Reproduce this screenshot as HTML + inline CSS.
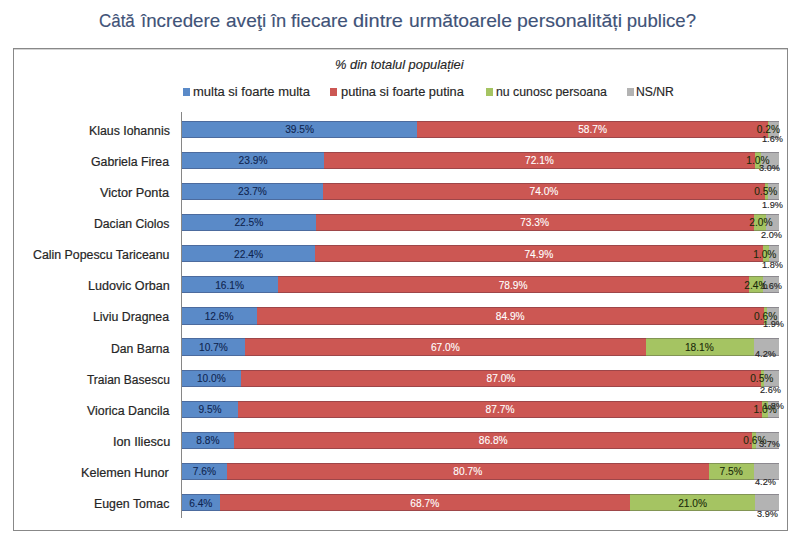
<!DOCTYPE html>
<html><head><meta charset="utf-8"><style>
html,body{margin:0;padding:0;background:#fff;width:800px;height:539px;overflow:hidden;position:relative}
.r{position:absolute}
.b{box-shadow:inset 0 1px rgba(40,30,50,0.28),inset 0 -1px rgba(40,30,50,0.28)}
.t{position:absolute;white-space:nowrap;line-height:1;font-family:"Liberation Sans",sans-serif;transform-origin:0 0;-webkit-text-stroke:0.15px currentColor}
</style></head><body>
<div class="r" style="left:183.00px;top:87.90px;width:7.20px;height:7.70px;background:#5A8AC8;"></div>
<div class="r" style="left:330.30px;top:87.90px;width:7.20px;height:7.70px;background:#CC5753;"></div>
<div class="r" style="left:485.50px;top:87.90px;width:7.20px;height:7.70px;background:#A5C462;"></div>
<div class="r" style="left:627.00px;top:87.90px;width:7.20px;height:7.70px;background:#B3B3B3;"></div>
<div class="r" style="left:13px;top:48px;width:775px;height:483px;border:1px solid #888888;box-sizing:border-box"></div>
<div class="r" style="left:14.00px;top:49.00px;width:773.00px;height:1.00px;background:#D4D4D4;"></div>
<div class="r b" style="left:182.00px;top:120.50px;width:235.39px;height:17.30px;background:#5A8AC8"></div>
<div class="r b" style="left:417.39px;top:120.50px;width:350.56px;height:17.30px;background:#CC5753"></div>
<div class="r b" style="left:767.95px;top:120.50px;width:1.19px;height:17.30px;background:#A5C462"></div>
<div class="r b" style="left:769.14px;top:120.50px;width:9.56px;height:17.30px;background:#B3B3B3"></div>
<div class="r b" style="left:182.00px;top:151.62px;width:142.23px;height:17.30px;background:#5A8AC8"></div>
<div class="r b" style="left:324.23px;top:151.62px;width:430.58px;height:17.30px;background:#CC5753"></div>
<div class="r b" style="left:754.81px;top:151.62px;width:5.97px;height:17.30px;background:#A5C462"></div>
<div class="r b" style="left:760.78px;top:151.62px;width:17.92px;height:17.30px;background:#B3B3B3"></div>
<div class="r b" style="left:182.00px;top:182.75px;width:141.04px;height:17.30px;background:#5A8AC8"></div>
<div class="r b" style="left:323.04px;top:182.75px;width:441.93px;height:17.30px;background:#CC5753"></div>
<div class="r b" style="left:764.96px;top:182.75px;width:2.99px;height:17.30px;background:#A5C462"></div>
<div class="r b" style="left:767.95px;top:182.75px;width:10.75px;height:17.30px;background:#B3B3B3"></div>
<div class="r b" style="left:182.00px;top:213.88px;width:133.87px;height:17.30px;background:#5A8AC8"></div>
<div class="r b" style="left:315.87px;top:213.88px;width:437.75px;height:17.30px;background:#CC5753"></div>
<div class="r b" style="left:753.62px;top:213.88px;width:11.94px;height:17.30px;background:#A5C462"></div>
<div class="r b" style="left:765.56px;top:213.88px;width:13.14px;height:17.30px;background:#B3B3B3"></div>
<div class="r b" style="left:182.00px;top:245.00px;width:133.27px;height:17.30px;background:#5A8AC8"></div>
<div class="r b" style="left:315.27px;top:245.00px;width:447.30px;height:17.30px;background:#CC5753"></div>
<div class="r b" style="left:762.58px;top:245.00px;width:5.97px;height:17.30px;background:#A5C462"></div>
<div class="r b" style="left:768.55px;top:245.00px;width:10.15px;height:17.30px;background:#B3B3B3"></div>
<div class="r b" style="left:182.00px;top:276.12px;width:95.65px;height:17.30px;background:#5A8AC8"></div>
<div class="r b" style="left:277.65px;top:276.12px;width:471.19px;height:17.30px;background:#CC5753"></div>
<div class="r b" style="left:748.84px;top:276.12px;width:14.33px;height:17.30px;background:#A5C462"></div>
<div class="r b" style="left:763.17px;top:276.12px;width:15.53px;height:17.30px;background:#B3B3B3"></div>
<div class="r b" style="left:182.00px;top:307.25px;width:74.75px;height:17.30px;background:#5A8AC8"></div>
<div class="r b" style="left:256.75px;top:307.25px;width:507.02px;height:17.30px;background:#CC5753"></div>
<div class="r b" style="left:763.77px;top:307.25px;width:3.58px;height:17.30px;background:#A5C462"></div>
<div class="r b" style="left:767.35px;top:307.25px;width:11.35px;height:17.30px;background:#B3B3B3"></div>
<div class="r b" style="left:182.00px;top:338.38px;width:63.40px;height:17.30px;background:#5A8AC8"></div>
<div class="r b" style="left:245.40px;top:338.38px;width:400.12px;height:17.30px;background:#CC5753"></div>
<div class="r b" style="left:645.52px;top:338.38px;width:108.09px;height:17.30px;background:#A5C462"></div>
<div class="r b" style="left:753.62px;top:338.38px;width:25.08px;height:17.30px;background:#B3B3B3"></div>
<div class="r b" style="left:182.00px;top:369.50px;width:59.22px;height:17.30px;background:#5A8AC8"></div>
<div class="r b" style="left:241.22px;top:369.50px;width:519.56px;height:17.30px;background:#CC5753"></div>
<div class="r b" style="left:760.78px;top:369.50px;width:2.99px;height:17.30px;background:#A5C462"></div>
<div class="r b" style="left:763.77px;top:369.50px;width:14.93px;height:17.30px;background:#B3B3B3"></div>
<div class="r b" style="left:182.00px;top:400.62px;width:56.23px;height:17.30px;background:#5A8AC8"></div>
<div class="r b" style="left:238.23px;top:400.62px;width:523.74px;height:17.30px;background:#CC5753"></div>
<div class="r b" style="left:761.98px;top:400.62px;width:5.97px;height:17.30px;background:#A5C462"></div>
<div class="r b" style="left:767.95px;top:400.62px;width:10.75px;height:17.30px;background:#B3B3B3"></div>
<div class="r b" style="left:182.00px;top:431.75px;width:52.05px;height:17.30px;background:#5A8AC8"></div>
<div class="r b" style="left:234.05px;top:431.75px;width:518.37px;height:17.30px;background:#CC5753"></div>
<div class="r b" style="left:752.42px;top:431.75px;width:3.58px;height:17.30px;background:#A5C462"></div>
<div class="r b" style="left:756.01px;top:431.75px;width:22.69px;height:17.30px;background:#B3B3B3"></div>
<div class="r b" style="left:182.00px;top:462.88px;width:44.89px;height:17.30px;background:#5A8AC8"></div>
<div class="r b" style="left:226.89px;top:462.88px;width:481.94px;height:17.30px;background:#CC5753"></div>
<div class="r b" style="left:708.83px;top:462.88px;width:44.79px;height:17.30px;background:#A5C462"></div>
<div class="r b" style="left:753.62px;top:462.88px;width:25.08px;height:17.30px;background:#B3B3B3"></div>
<div class="r b" style="left:182.00px;top:494.00px;width:37.72px;height:17.30px;background:#5A8AC8"></div>
<div class="r b" style="left:219.72px;top:494.00px;width:410.28px;height:17.30px;background:#CC5753"></div>
<div class="r b" style="left:630.00px;top:494.00px;width:125.41px;height:17.30px;background:#A5C462"></div>
<div class="r b" style="left:755.41px;top:494.00px;width:23.29px;height:17.30px;background:#B3B3B3"></div>
<div class="r" style="left:181px;top:112px;width:1px;height:406px;background:#868686"></div>
<div class="t" style="left:98.75px;top:11.56px;font-size:18.60px;color:#3F5378;transform:scaleX(0.9108);-webkit-text-stroke-width:0.15px">Câtă</div>
<div class="t" style="left:140.67px;top:11.56px;font-size:18.60px;color:#3F5378;transform:scaleX(1.0074);-webkit-text-stroke-width:0.15px">încredere</div>
<div class="t" style="left:225.74px;top:11.56px;font-size:18.60px;color:#3F5378;transform:scaleX(1.0257);-webkit-text-stroke-width:0.15px">aveţi</div>
<div class="t" style="left:270.87px;top:11.56px;font-size:18.60px;color:#3F5378;transform:scaleX(0.9868);-webkit-text-stroke-width:0.15px">în</div>
<div class="t" style="left:290.97px;top:11.56px;font-size:18.60px;color:#3F5378;transform:scaleX(1.0195);-webkit-text-stroke-width:0.15px">fiecare</div>
<div class="t" style="left:352.95px;top:11.56px;font-size:18.60px;color:#3F5378;transform:scaleX(1.0742);-webkit-text-stroke-width:0.15px">dintre</div>
<div class="t" style="left:408.75px;top:11.56px;font-size:18.60px;color:#3F5378;transform:scaleX(1.0367);-webkit-text-stroke-width:0.15px">următoarele</div>
<div class="t" style="left:516.73px;top:11.56px;font-size:18.60px;color:#3F5378;transform:scaleX(1.0477);-webkit-text-stroke-width:0.15px">personalități</div>
<div class="t" style="left:626.79px;top:11.56px;font-size:18.60px;color:#3F5378;-webkit-text-stroke-width:0.15px">publice?</div>
<div class="t" style="left:334.70px;top:58.10px;font-size:13.00px;color:#262626;font-style:italic;transform:scaleX(0.9886)">% din totalul populației</div>
<div class="t" style="left:193.16px;top:85.94px;font-size:12.00px;color:#262626;transform:scaleX(1.0819)">multa si foarte multa</div>
<div class="t" style="left:341.16px;top:85.94px;font-size:12.00px;color:#262626;transform:scaleX(1.0707)">putina si foarte putina</div>
<div class="t" style="left:495.70px;top:85.94px;font-size:12.00px;color:#262626;transform:scaleX(1.0254)">nu cunosc persoana</div>
<div class="t" style="left:636.33px;top:85.94px;font-size:12.00px;color:#262626;transform:scaleX(1.0134)">NS/NR</div>
<div class="t" style="left:88.61px;top:124.74px;font-size:12.00px;color:#262626;transform:scaleX(1.0266);-webkit-text-stroke-width:0.20px">Klaus Iohannis</div>
<div class="t" style="left:285.21px;top:125.02px;font-size:10.20px;color:#0F2550;-webkit-text-stroke-width:0.10px">39.5%</div>
<div class="t" style="left:578.19px;top:125.02px;font-size:10.20px;color:#FFFFFF;-webkit-text-stroke-width:0.10px">58.7%</div>
<div class="t" style="left:762.17px;top:133.56px;font-size:9.50px;color:#262626;transform:scaleX(0.9650);-webkit-text-stroke-width:0.15px">1.6%</div>
<div class="t" style="left:756.85px;top:125.02px;font-size:10.20px;color:#1A2A0A;-webkit-text-stroke-width:0.10px">0.2%</div>
<div class="t" style="left:90.98px;top:155.87px;font-size:12.00px;color:#262626;transform:scaleX(1.0263);-webkit-text-stroke-width:0.20px">Gabriela Firea</div>
<div class="t" style="left:238.58px;top:156.14px;font-size:10.20px;color:#0F2550;-webkit-text-stroke-width:0.10px">23.9%</div>
<div class="t" style="left:524.99px;top:156.14px;font-size:10.20px;color:#FFFFFF;-webkit-text-stroke-width:0.10px">72.1%</div>
<div class="t" style="left:758.63px;top:163.01px;font-size:9.50px;color:#262626;transform:scaleX(0.9650);-webkit-text-stroke-width:0.15px">3.0%</div>
<div class="t" style="left:746.27px;top:156.14px;font-size:10.20px;color:#1A2A0A;-webkit-text-stroke-width:0.10px">1.0%</div>
<div class="t" style="left:99.94px;top:186.99px;font-size:12.00px;color:#262626;transform:scaleX(1.0599);-webkit-text-stroke-width:0.20px">Victor Ponta</div>
<div class="t" style="left:237.98px;top:187.27px;font-size:10.20px;color:#0F2550;-webkit-text-stroke-width:0.10px">23.7%</div>
<div class="t" style="left:529.47px;top:187.27px;font-size:10.20px;color:#FFFFFF;-webkit-text-stroke-width:0.10px">74.0%</div>
<div class="t" style="left:761.57px;top:200.41px;font-size:9.50px;color:#262626;transform:scaleX(0.9650);-webkit-text-stroke-width:0.15px">1.9%</div>
<div class="t" style="left:754.15px;top:187.27px;font-size:10.20px;color:#1A2A0A;-webkit-text-stroke-width:0.10px">0.5%</div>
<div class="t" style="left:94.02px;top:218.12px;font-size:12.00px;color:#262626;transform:scaleX(1.0184);-webkit-text-stroke-width:0.20px">Dacian Ciolos</div>
<div class="t" style="left:234.40px;top:218.39px;font-size:10.20px;color:#0F2550;-webkit-text-stroke-width:0.10px">22.5%</div>
<div class="t" style="left:520.21px;top:218.39px;font-size:10.20px;color:#FFFFFF;-webkit-text-stroke-width:0.10px">73.3%</div>
<div class="t" style="left:761.48px;top:229.91px;font-size:9.50px;color:#262626;transform:scaleX(0.9650);-webkit-text-stroke-width:0.15px">2.0%</div>
<div class="t" style="left:749.30px;top:218.39px;font-size:10.20px;color:#1A2A0A;-webkit-text-stroke-width:0.10px">2.0%</div>
<div class="t" style="left:33.38px;top:249.24px;font-size:12.00px;color:#262626;transform:scaleX(1.0293);-webkit-text-stroke-width:0.20px">Calin Popescu Tariceanu</div>
<div class="t" style="left:234.10px;top:249.52px;font-size:10.20px;color:#0F2550;-webkit-text-stroke-width:0.10px">22.4%</div>
<div class="t" style="left:524.39px;top:249.52px;font-size:10.20px;color:#FFFFFF;-webkit-text-stroke-width:0.10px">74.9%</div>
<div class="t" style="left:761.87px;top:260.06px;font-size:9.50px;color:#262626;transform:scaleX(0.9650);-webkit-text-stroke-width:0.15px">1.8%</div>
<div class="t" style="left:753.17px;top:249.52px;font-size:10.20px;color:#1A2A0A;-webkit-text-stroke-width:0.10px">1.0%</div>
<div class="t" style="left:87.99px;top:280.37px;font-size:12.00px;color:#262626;transform:scaleX(1.0482);-webkit-text-stroke-width:0.20px">Ludovic Orban</div>
<div class="t" style="left:215.16px;top:280.64px;font-size:10.20px;color:#0F2550;-webkit-text-stroke-width:0.10px">16.1%</div>
<div class="t" style="left:498.71px;top:280.64px;font-size:10.20px;color:#FFFFFF;-webkit-text-stroke-width:0.10px">78.9%</div>
<div class="t" style="left:761.37px;top:280.61px;font-size:9.50px;color:#262626;transform:scaleX(0.9650);-webkit-text-stroke-width:0.15px">1.6%</div>
<div class="t" style="left:744.30px;top:280.64px;font-size:10.20px;color:#1A2A0A;-webkit-text-stroke-width:0.10px">2.4%</div>
<div class="t" style="left:92.91px;top:311.49px;font-size:12.00px;color:#262626;transform:scaleX(1.0276);-webkit-text-stroke-width:0.20px">Liviu Dragnea</div>
<div class="t" style="left:204.71px;top:311.77px;font-size:10.20px;color:#0F2550;-webkit-text-stroke-width:0.10px">12.6%</div>
<div class="t" style="left:495.75px;top:311.77px;font-size:10.20px;color:#FFFFFF;-webkit-text-stroke-width:0.10px">84.9%</div>
<div class="t" style="left:763.37px;top:318.91px;font-size:9.50px;color:#262626;transform:scaleX(0.9650);-webkit-text-stroke-width:0.15px">1.9%</div>
<div class="t" style="left:754.05px;top:311.77px;font-size:10.20px;color:#1A2A0A;-webkit-text-stroke-width:0.10px">0.6%</div>
<div class="t" style="left:110.72px;top:342.62px;font-size:12.00px;color:#262626;transform:scaleX(1.0160);-webkit-text-stroke-width:0.20px">Dan Barna</div>
<div class="t" style="left:199.04px;top:342.89px;font-size:10.20px;color:#0F2550;-webkit-text-stroke-width:0.10px">10.7%</div>
<div class="t" style="left:430.93px;top:342.89px;font-size:10.20px;color:#FFFFFF;-webkit-text-stroke-width:0.10px">67.0%</div>
<div class="t" style="left:755.22px;top:349.26px;font-size:9.50px;color:#262626;transform:scaleX(0.9650);-webkit-text-stroke-width:0.15px">4.2%</div>
<div class="t" style="left:684.91px;top:342.89px;font-size:10.20px;color:#1A2A0A;-webkit-text-stroke-width:0.10px">18.1%</div>
<div class="t" style="left:86.96px;top:373.74px;font-size:12.00px;color:#262626;-webkit-text-stroke-width:0.20px">Traian Basescu</div>
<div class="t" style="left:196.95px;top:374.02px;font-size:10.20px;color:#0F2550;-webkit-text-stroke-width:0.10px">10.0%</div>
<div class="t" style="left:486.49px;top:374.02px;font-size:10.20px;color:#FFFFFF;-webkit-text-stroke-width:0.10px">87.0%</div>
<div class="t" style="left:759.78px;top:384.61px;font-size:9.50px;color:#262626;transform:scaleX(0.9650);-webkit-text-stroke-width:0.15px">2.6%</div>
<div class="t" style="left:750.15px;top:374.02px;font-size:10.20px;color:#1A2A0A;-webkit-text-stroke-width:0.10px">0.5%</div>
<div class="t" style="left:86.64px;top:404.87px;font-size:12.00px;color:#262626;transform:scaleX(1.0321);-webkit-text-stroke-width:0.20px">Viorica Dancila</div>
<div class="t" style="left:198.44px;top:405.14px;font-size:10.20px;color:#0F2550;-webkit-text-stroke-width:0.10px">9.5%</div>
<div class="t" style="left:485.60px;top:405.14px;font-size:10.20px;color:#FFFFFF;-webkit-text-stroke-width:0.10px">87.7%</div>
<div class="t" style="left:762.57px;top:401.21px;font-size:9.50px;color:#262626;transform:scaleX(0.9650);-webkit-text-stroke-width:0.15px">1.8%</div>
<div class="t" style="left:753.57px;top:405.14px;font-size:10.20px;color:#1A2A0A;-webkit-text-stroke-width:0.10px">1.0%</div>
<div class="t" style="left:112.61px;top:435.99px;font-size:12.00px;color:#262626;transform:scaleX(1.0596);-webkit-text-stroke-width:0.20px">Ion Iliescu</div>
<div class="t" style="left:196.35px;top:436.27px;font-size:10.20px;color:#0F2550;-webkit-text-stroke-width:0.10px">8.8%</div>
<div class="t" style="left:478.73px;top:436.27px;font-size:10.20px;color:#FFFFFF;-webkit-text-stroke-width:0.10px">86.8%</div>
<div class="t" style="left:758.53px;top:439.21px;font-size:9.50px;color:#262626;transform:scaleX(0.9650);-webkit-text-stroke-width:0.15px">3.7%</div>
<div class="t" style="left:743.35px;top:436.27px;font-size:10.20px;color:#1A2A0A;-webkit-text-stroke-width:0.10px">0.6%</div>
<div class="t" style="left:81.49px;top:467.12px;font-size:12.00px;color:#262626;transform:scaleX(1.0523);-webkit-text-stroke-width:0.20px">Kelemen Hunor</div>
<div class="t" style="left:192.74px;top:467.39px;font-size:10.20px;color:#0F2550;-webkit-text-stroke-width:0.10px">7.6%</div>
<div class="t" style="left:453.35px;top:467.39px;font-size:10.20px;color:#FFFFFF;-webkit-text-stroke-width:0.10px">80.7%</div>
<div class="t" style="left:755.02px;top:476.91px;font-size:9.50px;color:#262626;transform:scaleX(0.9650);-webkit-text-stroke-width:0.15px">4.2%</div>
<div class="t" style="left:719.52px;top:467.39px;font-size:10.20px;color:#1A2A0A;-webkit-text-stroke-width:0.10px">7.5%</div>
<div class="t" style="left:94.01px;top:498.24px;font-size:12.00px;color:#262626;transform:scaleX(1.0295);-webkit-text-stroke-width:0.20px">Eugen Tomac</div>
<div class="t" style="left:189.16px;top:498.52px;font-size:10.20px;color:#0F2550;-webkit-text-stroke-width:0.10px">6.4%</div>
<div class="t" style="left:410.32px;top:498.52px;font-size:10.20px;color:#FFFFFF;-webkit-text-stroke-width:0.10px">68.7%</div>
<div class="t" style="left:757.28px;top:508.56px;font-size:9.50px;color:#262626;transform:scaleX(0.9650);-webkit-text-stroke-width:0.15px">3.9%</div>
<div class="t" style="left:678.17px;top:498.52px;font-size:10.20px;color:#1A2A0A;-webkit-text-stroke-width:0.10px">21.0%</div>
</body></html>
